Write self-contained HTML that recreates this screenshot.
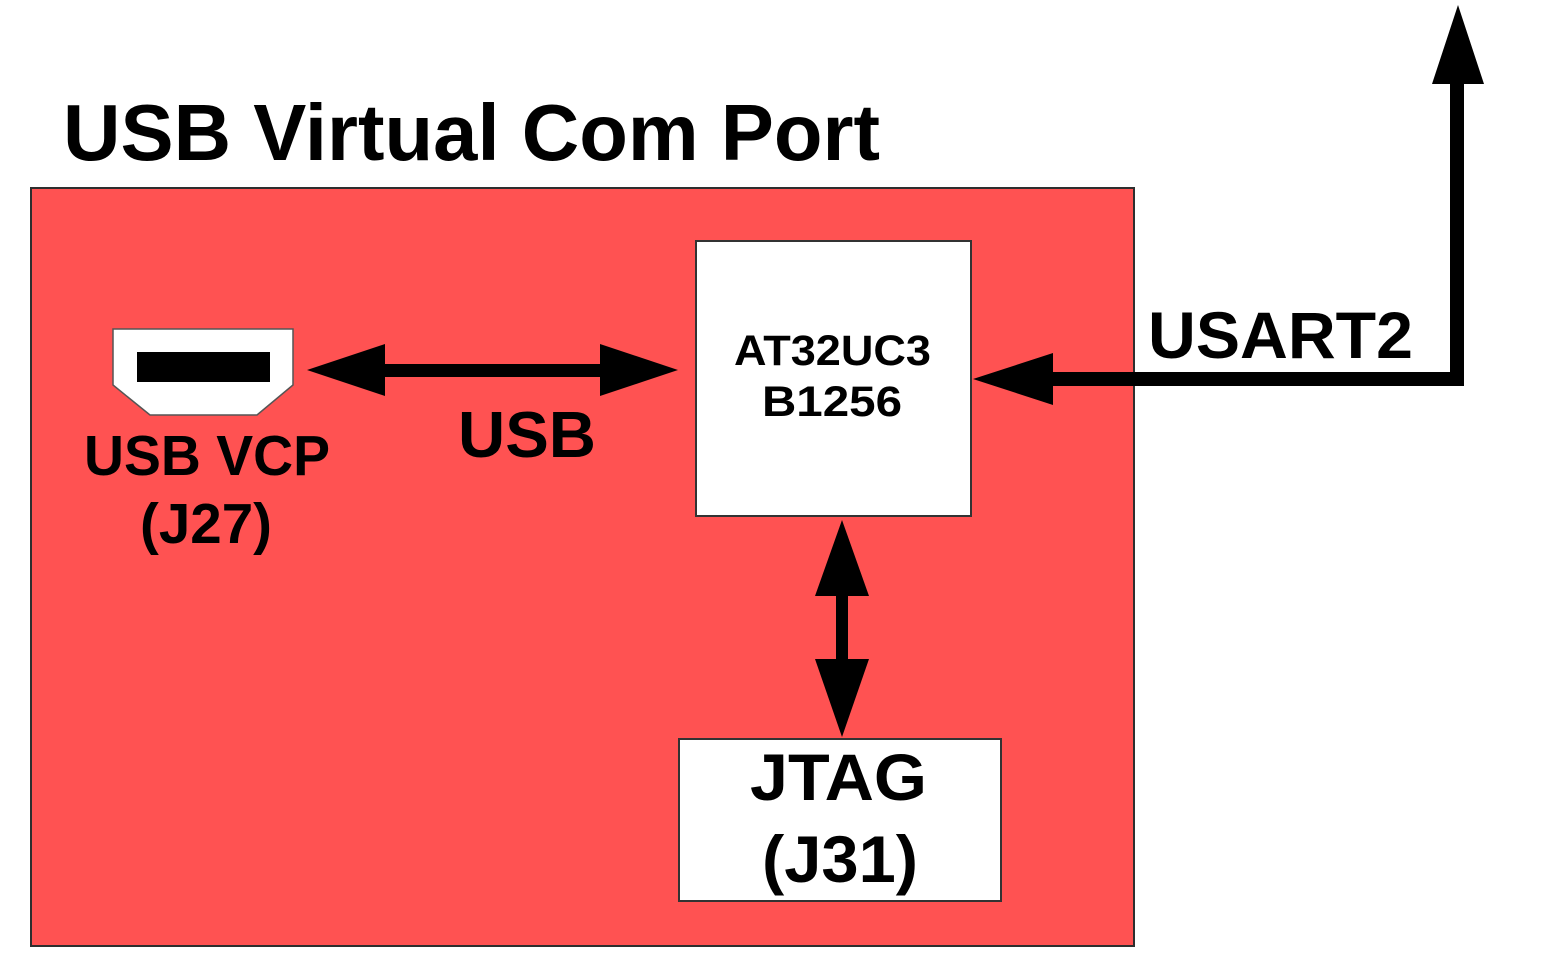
<!DOCTYPE html>
<html>
<head>
<meta charset="utf-8">
<style>
  html, body { margin: 0; padding: 0; background: #ffffff; }
  body { width: 1560px; height: 960px; overflow: hidden; }
  svg { display: block; }
  text { font-family: "Liberation Sans", Arial, sans-serif; font-weight: bold; fill: #000; }
</style>
</head>
<body>
<svg width="1560" height="960" viewBox="0 0 1560 960" xmlns="http://www.w3.org/2000/svg">
  <rect x="0" y="0" width="1560" height="960" fill="#ffffff"/>

  <!-- Title -->
  <text x="63" y="160" font-size="80" textLength="817" lengthAdjust="spacingAndGlyphs">USB Virtual Com Port</text>

  <!-- Red board -->
  <rect x="31" y="188" width="1103" height="758" fill="#ff5252" stroke="#2e2e2e" stroke-width="2"/>

  <!-- Chip box -->
  <rect x="696" y="241" width="275" height="275" fill="#ffffff" stroke="#333" stroke-width="2"/>
  <text x="734" y="365" font-size="43" textLength="197" lengthAdjust="spacingAndGlyphs">AT32UC3</text>
  <text x="762" y="416" font-size="43" textLength="140" lengthAdjust="spacingAndGlyphs">B1256</text>

  <!-- USB connector -->
  <polygon points="113,329 293,329 293,385 257,415 150,415 113,385" fill="#ffffff" stroke="#555" stroke-width="1.5"/>
  <rect x="137" y="352" width="133" height="30" fill="#000"/>

  <!-- USB VCP label -->
  <text x="84" y="475" font-size="57" textLength="246" lengthAdjust="spacingAndGlyphs">USB VCP</text>
  <text x="140" y="543" font-size="57" textLength="132" lengthAdjust="spacingAndGlyphs">(J27)</text>

  <!-- USB bidirectional arrow -->
  <rect x="380" y="364" width="225" height="13" fill="#000"/>
  <polygon points="307,370 385,344 385,396" fill="#000"/>
  <polygon points="678,370 600,344 600,396" fill="#000"/>
  <text x="458" y="457" font-size="65" textLength="138" lengthAdjust="spacingAndGlyphs">USB</text>

  <!-- USART2 arrow -->
  <polygon points="973,379 1053,353 1053,405" fill="#000"/>
  <rect x="1048" y="372" width="416" height="14" fill="#000"/>
  <rect x="1450" y="80" width="14" height="306" fill="#000"/>
  <polygon points="1458,5 1432,84 1484,84" fill="#000"/>
  <text x="1148" y="358" font-size="66" textLength="265" lengthAdjust="spacingAndGlyphs">USART2</text>

  <!-- JTAG bidirectional arrow -->
  <polygon points="842,520 815,596 869,596" fill="#000"/>
  <rect x="836" y="590" width="12" height="75" fill="#000"/>
  <polygon points="842,737 815,659 869,659" fill="#000"/>

  <!-- JTAG box -->
  <rect x="679" y="739" width="322" height="162" fill="#ffffff" stroke="#333" stroke-width="2"/>
  <text x="750" y="800" font-size="66" textLength="177" lengthAdjust="spacingAndGlyphs">JTAG</text>
  <text x="762" y="882" font-size="66" textLength="156" lengthAdjust="spacingAndGlyphs">(J31)</text>
</svg>
</body>
</html>
